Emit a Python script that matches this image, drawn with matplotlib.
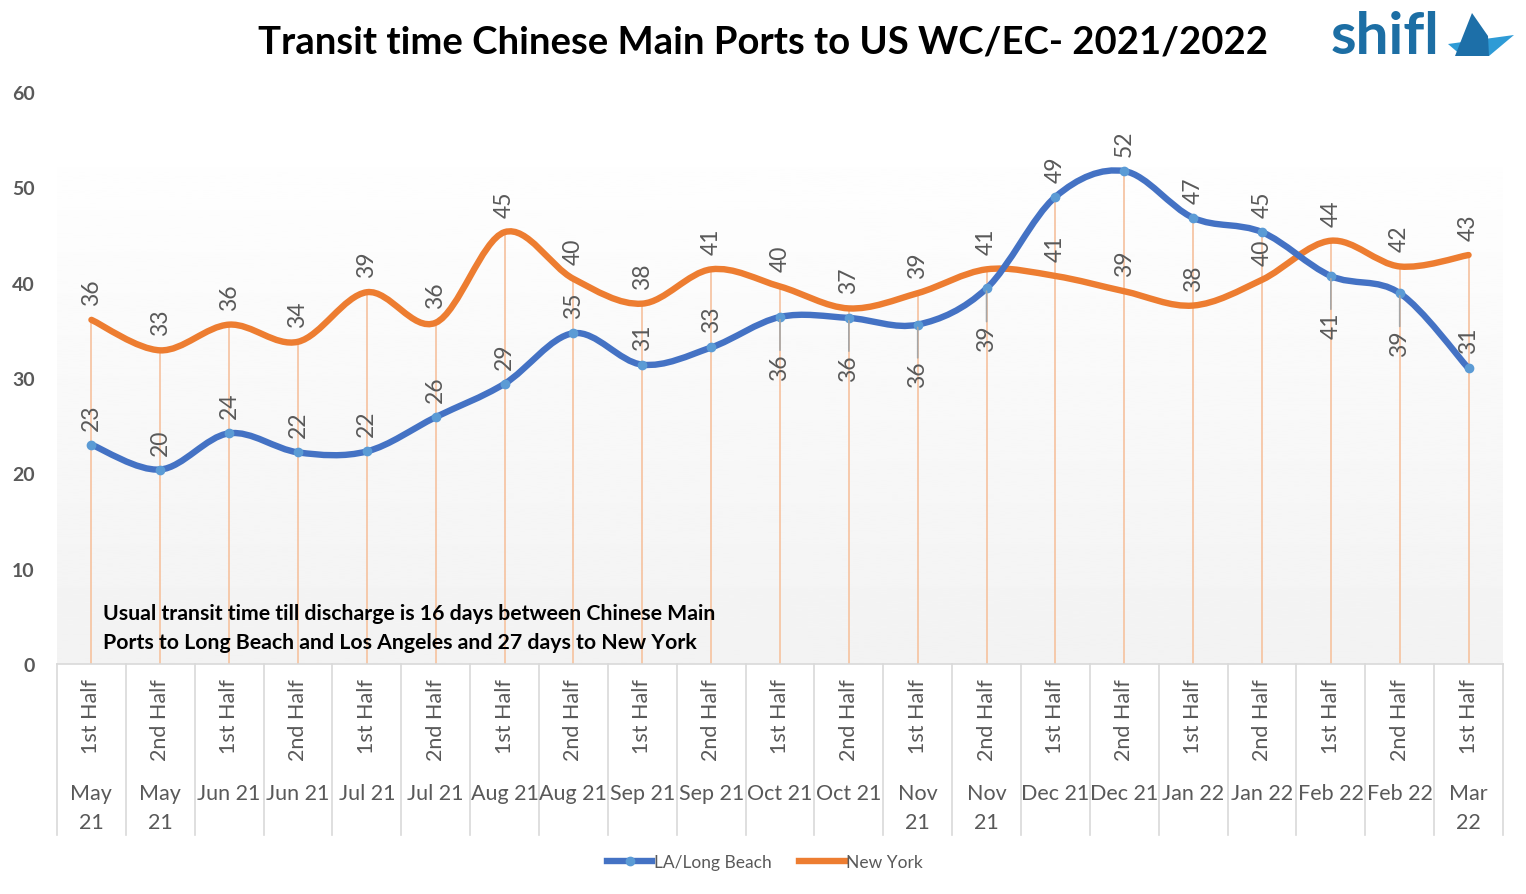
import numpy as np
import matplotlib
matplotlib.use("Agg")
import matplotlib.pyplot as plt
from matplotlib.path import Path
from matplotlib.patches import PathPatch, Polygon
from matplotlib.lines import Line2D
import matplotlib.transforms as mtransforms

plt.rcParams['font.family'] = ['Lato', 'DejaVu Sans']

# data
halves = ["1st Half", "2nd Half"] * 10 + ["1st Half"]
months = ["May\n21", "May\n21", "Jun 21", "Jun 21", "Jul 21", "Jul 21", "Aug 21", "Aug 21",
          "Sep 21", "Sep 21", "Oct 21", "Oct 21", "Nov\n21", "Nov\n21", "Dec 21", "Dec 21",
          "Jan 22", "Jan 22", "Feb 22", "Feb 22", "Mar\n22"]
la_long_beach = [23.0, 20.4, 24.2, 22.2, 22.3, 25.9, 29.4, 34.7, 31.4, 33.2, 36.4,
                 36.3, 35.6, 39.4, 49.0, 51.7, 46.8, 45.3, 40.7, 38.9, 31.0]
new_york = [36.1, 32.9, 35.6, 33.8, 39.0, 35.8, 45.3, 40.4, 37.8, 41.4, 39.6,
            37.3, 38.9, 41.4, 40.7, 39.1, 37.6, 40.3, 44.4, 41.7, 42.9]
la_labels_below = [10, 11, 12, 13, 18, 19]

BLUE = "#4472C4"
ORANGE = "#ED7D31"
GREY = "#595959"
W, H = 1526, 895


def smooth_path(xs, ys):
    # Excel-style smoothed line: cubic beziers with catmull-rom control points
    pts = np.column_stack([xs, ys])
    n = len(pts)
    verts = [pts[0]]
    codes = [Path.MOVETO]
    for i in range(n - 1):
        p0 = pts[max(i - 1, 0)]
        p1 = pts[i]
        p2 = pts[i + 1]
        p3 = pts[min(i + 2, n - 1)]
        verts += [p1 + (p2 - p0) / 6, p2 - (p3 - p1) / 6, p2]
        codes += [Path.CURVE4] * 3
    return Path(verts, codes)


fig = plt.figure(figsize=(W / 100, H / 100), dpi=100)
ax = fig.add_axes([57 / W, (H - 665) / H, (1503 - 57) / W, (665 - 93) / H])
x = np.arange(len(halves))
ax.set_xlim(-0.5, len(halves) - 0.5)
ax.set_ylim(0, 60)

# plot area gradient
grad = np.linspace(0.95, 0.997, 256).reshape(-1, 1)
ax.imshow(grad, cmap="gray", vmin=0, vmax=1, origin="lower", aspect="auto",
          extent=(-0.5, len(halves) - 0.5, 0, 53), zorder=0)

# drop lines
tops = np.maximum(la_long_beach, new_york)
ax.vlines(x, 0, tops, color="#F6C9AB", lw=1.4, zorder=1)

ax.add_patch(PathPatch(smooth_path(x, new_york), fill=False, ec=ORANGE, lw=4.6,
                       capstyle="round", zorder=3))
ax.add_patch(PathPatch(smooth_path(x, la_long_beach), fill=False, ec=BLUE, lw=4.6,
                       capstyle="round", zorder=4))
ax.plot(x, la_long_beach, "o", ms=6, color="#5B9BD5", mec="#5B9BD5", zorder=5)

# data labels
LBL = 16.5
for i, v in enumerate(new_york):
    ax.annotate(f"{v:.0f}", (i, v), xytext=(0, 15), textcoords="offset pixels",
                rotation=90, ha="center", va="bottom", fontsize=LBL, color=GREY, zorder=6)
for i, v in enumerate(la_long_beach):
    if i in la_labels_below:
        ax.annotate(f"{v:.0f}", (i, v), xytext=(0, -36), textcoords="offset pixels",
                    rotation=90, ha="center", va="top", fontsize=LBL, color=GREY, zorder=6,
                    arrowprops=dict(arrowstyle="-", color="#A6A6A6", lw=1.2,
                                    shrinkA=0, shrinkB=2))
    else:
        ax.annotate(f"{v:.0f}", (i, v), xytext=(0, 15), textcoords="offset pixels",
                    rotation=90, ha="center", va="bottom", fontsize=LBL, color=GREY, zorder=6)

# axes styling
for s in ["top", "right", "left"]:
    ax.spines[s].set_visible(False)
ax.spines["bottom"].set_color("#D9D9D9")
ax.spines["bottom"].set_linewidth(1.2)
ax.set_yticks(range(0, 61, 10))
ax.tick_params(axis="y", length=0, pad=16, labelsize=14, labelcolor=GREY)
for lab in ax.get_yticklabels():
    lab.set_fontweight("bold")
ax.set_xticks([])

# multi-level category axis
tr = mtransforms.blended_transform_factory(ax.transData, ax.transAxes)
ax_h = 665 - 93
for b in np.arange(-0.5, len(halves), 1.0):
    ax.plot([b, b], [0, -(836 - 665) / ax_h], color="#D9D9D9", lw=1.2,
            transform=tr, clip_on=False)
for i in x:
    ax.text(i, -(679 - 665) / ax_h, halves[i], rotation=90, ha="center", va="top",
            fontsize=15.5, color=GREY, transform=tr)
    ax.text(i, -(784 - 665) / ax_h, months[i], ha="center", va="top", fontsize=15.5,
            color=GREY, transform=tr, linespacing=1.55)

ax.text(0.17, 6.45, "Usual transit time till discharge is 16 days between Chinese Main\n"
        "Ports to Long Beach and Los Angeles and 27 days to New York",
        fontsize=15.3, fontweight="bold", color="black", va="top", linespacing=1.6, zorder=7)

# title
fig.text(763 / W, 1 - 43 / H, "Transit time Chinese Main Ports to US WC/EC- 2021/2022",
         ha="center", va="center", fontsize=27.5, fontweight="bold", color="black")

# logo
fig.text(1331 / W, 1 - 37 / H, "shifl", ha="left", va="center", fontsize=42,
         color="#1C6EA4", fontweight="bold")
fig_px = mtransforms.Affine2D().scale(1 / W, -1 / H).translate(0, 1) + fig.transFigure
fig.patches.append(Polygon([(1448, 45), (1514, 36), (1489, 57), (1462, 57)], closed=True,
                           fc="#2E9BD6", ec="none", transform=fig_px))
fig.patches.append(Polygon([(1472, 14), (1455, 57), (1489, 57), (1488, 37)], closed=True,
                           fc="#1D6FA8", ec="none", transform=fig_px))

# legend
handles = [Line2D([], [], color=BLUE, lw=4.6, marker="o", ms=6, mfc="#5B9BD5", mec="#5B9BD5"),
           Line2D([], [], color=ORANGE, lw=4.6)]
fig.legend(handles, ["LA/Long Beach", "New York"], loc="center",
           bbox_to_anchor=(765 / W, 1 - 863 / H), ncol=2, frameon=False, fontsize=12.5,
           labelcolor=GREY, handlelength=2.6, handletextpad=0.1, columnspacing=1.6)

fig.savefig("out.png", dpi=100)
